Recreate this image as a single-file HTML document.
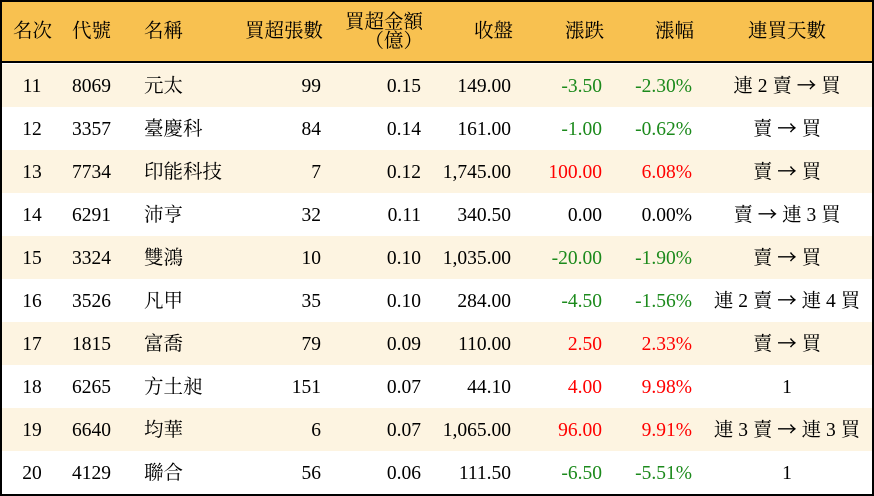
<!DOCTYPE html>
<html><head><meta charset="utf-8">
<style>
html,body{margin:0;padding:0;background:#fff;}
#t{position:relative;width:874px;height:496px;box-sizing:border-box;border:2px solid #000;overflow:hidden;
 font-family:"Liberation Serif","Noto Serif CJK SC","Noto Serif CJK TC",serif;font-size:19.5px;color:#000;}
.hd{position:absolute;left:0;top:0;width:874px;height:59px;background:#F8C150;border-bottom:2.5px solid #000;}
.r{position:absolute;left:-2px;width:874px;height:43.05px;}
.c{background:#FDF4E1;}
.s{position:absolute;white-space:nowrap;line-height:43px;top:1px;}
.h{position:absolute;white-space:nowrap;line-height:59px;top:0;}
.g{color:#1c8a1c;}
.d{color:#f00;}
.a{font-family:"Noto Sans CJK TC","Noto Sans CJK JP",sans-serif;line-height:0;}
</style></head><body>
<div id="t">
<div class="hd" style="left:0;">
 <span class="h" style="left:11px;">名次</span>
 <span class="h" style="left:70px;">代號</span>
 <span class="h" style="left:142px;">名稱</span>
 <span class="h" style="right:553px;">買超張數</span>
 <span class="h" style="right:453px;top:10.5px;line-height:19.5px;text-align:right;">買超金額<br>（億）</span>
 <span class="h" style="right:363px;">收盤</span>
 <span class="h" style="right:272px;">漲跌</span>
 <span class="h" style="right:182px;">漲幅</span>
 <span class="h" style="left:685px;width:200px;text-align:center;">連買天數</span>
</div>

<div class="r c" style="top:61.5px;">
 <span class="s" style="left:0;width:64px;text-align:center;">11</span>
 <span class="s" style="left:72px;">8069</span>
 <span class="s" style="left:144px;">元太</span>
 <span class="s" style="right:553px;">99</span>
 <span class="s" style="right:453px;">0.15</span>
 <span class="s" style="right:363px;">149.00</span>
 <span class="s g" style="right:272px;">-3.50</span>
 <span class="s g" style="right:182px;">-2.30%</span>
 <span class="s" style="left:687px;width:200px;text-align:center;">連 2 賣 <span class="a">→</span> 買</span>
</div>
<div class="r" style="top:104.55px;">
 <span class="s" style="left:0;width:64px;text-align:center;">12</span>
 <span class="s" style="left:72px;">3357</span>
 <span class="s" style="left:144px;">臺慶科</span>
 <span class="s" style="right:553px;">84</span>
 <span class="s" style="right:453px;">0.14</span>
 <span class="s" style="right:363px;">161.00</span>
 <span class="s g" style="right:272px;">-1.00</span>
 <span class="s g" style="right:182px;">-0.62%</span>
 <span class="s" style="left:687px;width:200px;text-align:center;">賣 <span class="a">→</span> 買</span>
</div>
<div class="r c" style="top:147.6px;">
 <span class="s" style="left:0;width:64px;text-align:center;">13</span>
 <span class="s" style="left:72px;">7734</span>
 <span class="s" style="left:144px;">印能科技</span>
 <span class="s" style="right:553px;">7</span>
 <span class="s" style="right:453px;">0.12</span>
 <span class="s" style="right:363px;">1,745.00</span>
 <span class="s d" style="right:272px;">100.00</span>
 <span class="s d" style="right:182px;">6.08%</span>
 <span class="s" style="left:687px;width:200px;text-align:center;">賣 <span class="a">→</span> 買</span>
</div>
<div class="r" style="top:190.65px;">
 <span class="s" style="left:0;width:64px;text-align:center;">14</span>
 <span class="s" style="left:72px;">6291</span>
 <span class="s" style="left:144px;">沛亨</span>
 <span class="s" style="right:553px;">32</span>
 <span class="s" style="right:453px;">0.11</span>
 <span class="s" style="right:363px;">340.50</span>
 <span class="s" style="right:272px;">0.00</span>
 <span class="s" style="right:182px;">0.00%</span>
 <span class="s" style="left:687px;width:200px;text-align:center;">賣 <span class="a">→</span> 連 3 買</span>
</div>
<div class="r c" style="top:233.7px;">
 <span class="s" style="left:0;width:64px;text-align:center;">15</span>
 <span class="s" style="left:72px;">3324</span>
 <span class="s" style="left:144px;">雙鴻</span>
 <span class="s" style="right:553px;">10</span>
 <span class="s" style="right:453px;">0.10</span>
 <span class="s" style="right:363px;">1,035.00</span>
 <span class="s g" style="right:272px;">-20.00</span>
 <span class="s g" style="right:182px;">-1.90%</span>
 <span class="s" style="left:687px;width:200px;text-align:center;">賣 <span class="a">→</span> 買</span>
</div>
<div class="r" style="top:276.75px;">
 <span class="s" style="left:0;width:64px;text-align:center;">16</span>
 <span class="s" style="left:72px;">3526</span>
 <span class="s" style="left:144px;">凡甲</span>
 <span class="s" style="right:553px;">35</span>
 <span class="s" style="right:453px;">0.10</span>
 <span class="s" style="right:363px;">284.00</span>
 <span class="s g" style="right:272px;">-4.50</span>
 <span class="s g" style="right:182px;">-1.56%</span>
 <span class="s" style="left:687px;width:200px;text-align:center;">連 2 賣 <span class="a">→</span> 連 4 買</span>
</div>
<div class="r c" style="top:319.8px;">
 <span class="s" style="left:0;width:64px;text-align:center;">17</span>
 <span class="s" style="left:72px;">1815</span>
 <span class="s" style="left:144px;">富喬</span>
 <span class="s" style="right:553px;">79</span>
 <span class="s" style="right:453px;">0.09</span>
 <span class="s" style="right:363px;">110.00</span>
 <span class="s d" style="right:272px;">2.50</span>
 <span class="s d" style="right:182px;">2.33%</span>
 <span class="s" style="left:687px;width:200px;text-align:center;">賣 <span class="a">→</span> 買</span>
</div>
<div class="r" style="top:362.85px;">
 <span class="s" style="left:0;width:64px;text-align:center;">18</span>
 <span class="s" style="left:72px;">6265</span>
 <span class="s" style="left:144px;">方土昶</span>
 <span class="s" style="right:553px;">151</span>
 <span class="s" style="right:453px;">0.07</span>
 <span class="s" style="right:363px;">44.10</span>
 <span class="s d" style="right:272px;">4.00</span>
 <span class="s d" style="right:182px;">9.98%</span>
 <span class="s" style="left:687px;width:200px;text-align:center;">1</span>
</div>
<div class="r c" style="top:405.9px;">
 <span class="s" style="left:0;width:64px;text-align:center;">19</span>
 <span class="s" style="left:72px;">6640</span>
 <span class="s" style="left:144px;">均華</span>
 <span class="s" style="right:553px;">6</span>
 <span class="s" style="right:453px;">0.07</span>
 <span class="s" style="right:363px;">1,065.00</span>
 <span class="s d" style="right:272px;">96.00</span>
 <span class="s d" style="right:182px;">9.91%</span>
 <span class="s" style="left:687px;width:200px;text-align:center;">連 3 賣 <span class="a">→</span> 連 3 買</span>
</div>
<div class="r" style="top:448.95px;">
 <span class="s" style="left:0;width:64px;text-align:center;">20</span>
 <span class="s" style="left:72px;">4129</span>
 <span class="s" style="left:144px;">聯合</span>
 <span class="s" style="right:553px;">56</span>
 <span class="s" style="right:453px;">0.06</span>
 <span class="s" style="right:363px;">111.50</span>
 <span class="s g" style="right:272px;">-6.50</span>
 <span class="s g" style="right:182px;">-5.51%</span>
 <span class="s" style="left:687px;width:200px;text-align:center;">1</span>
</div>
</div>
</body></html>
